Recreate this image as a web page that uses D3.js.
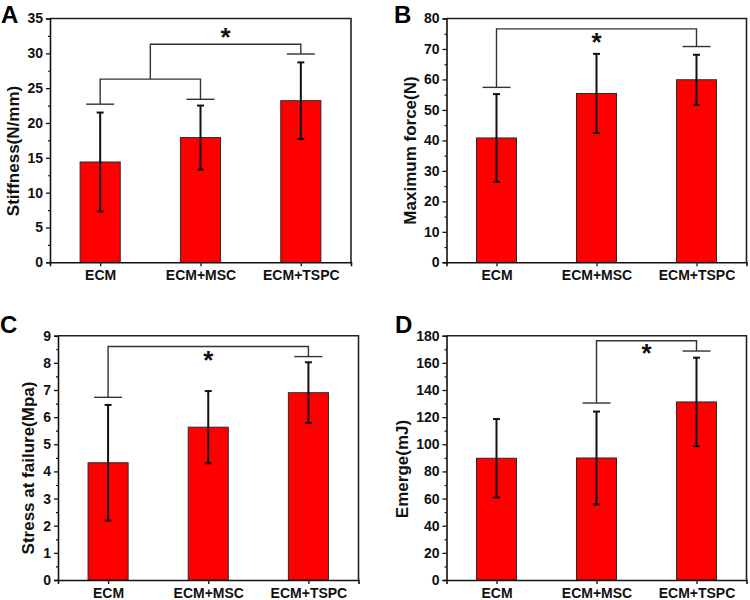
<!DOCTYPE html>
<html>
<head>
<meta charset="utf-8">
<script src="https://cdn.jsdelivr.net/npm/d3@7/dist/d3.min.js"></script>
<style>
  html, body { margin: 0; padding: 0; background: #fff; }
  svg { display: block; font-family: "Liberation Sans", Arial, sans-serif; }
</style>
</head>
<body>
<svg id="chart" width="750" height="600"></svg>
<script>
// ---------------- DATA ----------------
const categories = ["ECM", "ECM+MSC", "ECM+TSPC"];

const stiffnessMean = [14.4, 17.9, 23.2];
const stiffnessSD   = [7.1, 4.6, 5.5];
const stiffnessTicks = [0, 5, 10, 15, 20, 25, 30, 35];

const forceMean = [40.8, 55.4, 59.9];
const forceSD   = [14.4, 13.0, 8.2];
const forceTicks = [0, 10, 20, 30, 40, 50, 60, 70, 80];

const stressMean = [4.32, 5.63, 6.9];
const stressSD   = [2.13, 1.33, 1.12];
const stressTicks = [0, 1, 2, 3, 4, 5, 6, 7, 8, 9];

const energyMean = [89.7, 89.9, 131.2];
const energySD   = [28.9, 34.2, 32.6];
const energyTicks = [0, 20, 40, 60, 80, 100, 120, 140, 160, 180];

// significance annotations (x in category index units 1..3, y in data units)
const stiffnessCaps = [{x: 1, y: 22.7}, {x: 2, y: 23.4}, {x: 3, y: 29.9}];
const stiffnessBrackets = [{x1: 1, y1: 22.7, x2: 2, y2: 23.4, top: 26.3},
                           {x1: 1.5, y1: 26.3, x2: 3, y2: 29.9, top: 31.3}];
const stiffnessStar = {x: 2.25, y: 33.0};

const forceCaps = [{x: 1, y: 57.4}, {x: 3, y: 70.8}];
const forceBrackets = [{x1: 1, y1: 57.4, x2: 3, y2: 70.8, top: 76.6}];
const forceStar = {x: 2, y: 74.0};

const stressCaps = [{x: 1, y: 6.73}, {x: 3, y: 8.23}];
const stressBrackets = [{x1: 1, y1: 6.73, x2: 3, y2: 8.23, top: 8.6}];
const stressStar = {x: 2, y: 8.29};

const energyCaps = [{x: 2, y: 130.4}, {x: 3, y: 168.7}];
const energyBrackets = [{x1: 2, y1: 130.4, x2: 3, y2: 168.7, top: 176.3}];
const energyStar = {x: 2.5, y: 171.3};

// ---------------- PANELS ----------------
const panels = [
  {letter: "A", title: "Stiffness(N/mm)", mean: stiffnessMean, sd: stiffnessSD, ticks: stiffnessTicks,
   caps: stiffnessCaps, brackets: stiffnessBrackets, star: stiffnessStar,
   left: 50, top: 18.5, width: 301, height: 243.8, letterX: 1, letterY: 23, titleX: 19, titleY: 151},
  {letter: "B", title: "Maximum force(N)", mean: forceMean, sd: forceSD, ticks: forceTicks,
   caps: forceCaps, brackets: forceBrackets, star: forceStar,
   left: 446.5, top: 18.5, width: 300, height: 243.8, letterX: 394, letterY: 23, titleX: 416, titleY: 150.5},
  {letter: "C", title: "Stress at failure(Mpa)", mean: stressMean, sd: stressSD, ticks: stressTicks,
   caps: stressCaps, brackets: stressBrackets, star: stressStar,
   left: 58, top: 335.7, width: 300.5, height: 244.3, letterX: 0, letterY: 333, titleX: 34, titleY: 468},
  {letter: "D", title: "Emerge(mJ)", mean: energyMean, sd: energySD, ticks: energyTicks,
   caps: energyCaps, brackets: energyBrackets, star: energyStar,
   left: 446.5, top: 335.7, width: 300, height: 244.3, letterX: 395, letterY: 333, titleX: 408, titleY: 469}
];

const svg = d3.select("#chart");
const FONT = "'Liberation Sans', Arial, sans-serif";

panels.forEach(p => {
  const g = svg.append("g");
  const x = d3.scaleLinear().domain([0.5, 3.5]).range([p.left, p.left + p.width]);
  const yMax = p.ticks[p.ticks.length - 1];
  const y = d3.scaleLinear().domain([0, yMax]).range([p.top + p.height, p.top]);
  const step = p.ticks[1] - p.ticks[0];
  const minorTicks = p.ticks.slice(0, -1).map(t => t + step / 2);

  const rows = categories.map((c, i) => ({cat: c, idx: i + 1, mean: p.mean[i], sd: p.sd[i]}));

  // bars
  const bw = 0.4;
  g.selectAll("rect.bar").data(rows).enter().append("rect")
    .attr("class", "bar")
    .attr("x", d => x(d.idx - bw / 2))
    .attr("width", d => x(d.idx + bw / 2) - x(d.idx - bw / 2))
    .attr("y", d => y(d.mean))
    .attr("height", d => y(0) - y(d.mean))
    .attr("fill", "#ff0000")
    .attr("stroke", "#2a2a2a")
    .attr("stroke-width", 1);

  // error bars
  const eb = g.selectAll("g.err").data(rows).enter().append("g").attr("class", "err")
    .attr("stroke", "#111").attr("stroke-width", 2);
  eb.append("line")
    .attr("x1", d => x(d.idx)).attr("x2", d => x(d.idx))
    .attr("y1", d => y(d.mean + d.sd)).attr("y2", d => y(d.mean - d.sd));
  eb.append("line")
    .attr("x1", d => x(d.idx) - 3.5).attr("x2", d => x(d.idx) + 3.5)
    .attr("y1", d => y(d.mean + d.sd)).attr("y2", d => y(d.mean + d.sd));
  eb.append("line")
    .attr("x1", d => x(d.idx) - 3.5).attr("x2", d => x(d.idx) + 3.5)
    .attr("y1", d => y(d.mean - d.sd)).attr("y2", d => y(d.mean - d.sd));

  // frame (top & right)
  g.append("path")
    .attr("d", `M${p.left},${p.top}H${p.left + p.width}V${p.top + p.height}`)
    .attr("fill", "none").attr("stroke", "#222").attr("stroke-width", 1.6);

  // y axis
  const yAxis = d3.axisLeft(y).tickValues(p.ticks).tickSize(4).tickPadding(3).tickFormat(d3.format("d"));
  const ya = g.append("g").attr("transform", `translate(${p.left},0)`).call(yAxis);
  ya.select(".domain").attr("stroke", "#111").attr("stroke-width", 1.6);
  ya.selectAll(".tick line").attr("stroke", "#111").attr("stroke-width", 1.3);
  ya.selectAll(".tick text").attr("font-size", 14).attr("font-weight", "bold").attr("fill", "#111")
    .attr("font-family", FONT);
  // minor ticks
  const yMinor = d3.axisLeft(y).tickValues(minorTicks).tickSize(2).tickFormat("");
  const ym = g.append("g").attr("transform", `translate(${p.left},0)`).call(yMinor);
  ym.select(".domain").remove();
  ym.selectAll(".tick line").attr("stroke", "#111").attr("stroke-width", 1.2);

  // x axis
  const xAxis = d3.axisBottom(x).tickValues([1, 2, 3]).tickSize(4).tickPadding(4)
    .tickFormat(d => categories[d - 1]);
  const xa = g.append("g").attr("transform", `translate(0,${p.top + p.height})`).call(xAxis);
  xa.select(".domain").attr("stroke", "#111").attr("stroke-width", 1.6);
  xa.selectAll(".tick line").attr("stroke", "#111").attr("stroke-width", 1.3);
  xa.selectAll(".tick text").attr("font-size", 14).attr("font-weight", "bold").attr("fill", "#111")
    .attr("font-family", FONT);

  // significance caps
  g.selectAll("line.sigcap").data(p.caps).enter().append("line")
    .attr("class", "sigcap")
    .attr("x1", d => x(d.x - 0.14)).attr("x2", d => x(d.x + 0.14))
    .attr("y1", d => y(d.y)).attr("y2", d => y(d.y))
    .attr("stroke", "#333").attr("stroke-width", 1.4);
  // brackets
  g.selectAll("path.brk").data(p.brackets).enter().append("path")
    .attr("class", "brk")
    .attr("d", d => `M${x(d.x1)},${y(d.y1)}V${y(d.top)}H${x(d.x2)}V${y(d.y2)}`)
    .attr("fill", "none").attr("stroke", "#333").attr("stroke-width", 1.4);
  // star
  g.append("text")
    .attr("x", x(p.star.x)).attr("y", y(p.star.y) + 14)
    .attr("text-anchor", "middle").attr("font-size", 26).attr("font-weight", "bold")
    .attr("fill", "#111").text("*");

  // y title
  g.append("text")
    .attr("transform", `translate(${p.titleX},${p.titleY}) rotate(-90)`)
    .attr("text-anchor", "middle").attr("font-size", 17).attr("font-weight", "bold")
    .attr("fill", "#111").text(p.title);

  // panel letter
  g.append("text")
    .attr("x", p.letterX).attr("y", p.letterY)
    .attr("font-size", 24).attr("font-weight", "bold").attr("fill", "#000")
    .text(p.letter);
});
</script>
</body>
</html>
